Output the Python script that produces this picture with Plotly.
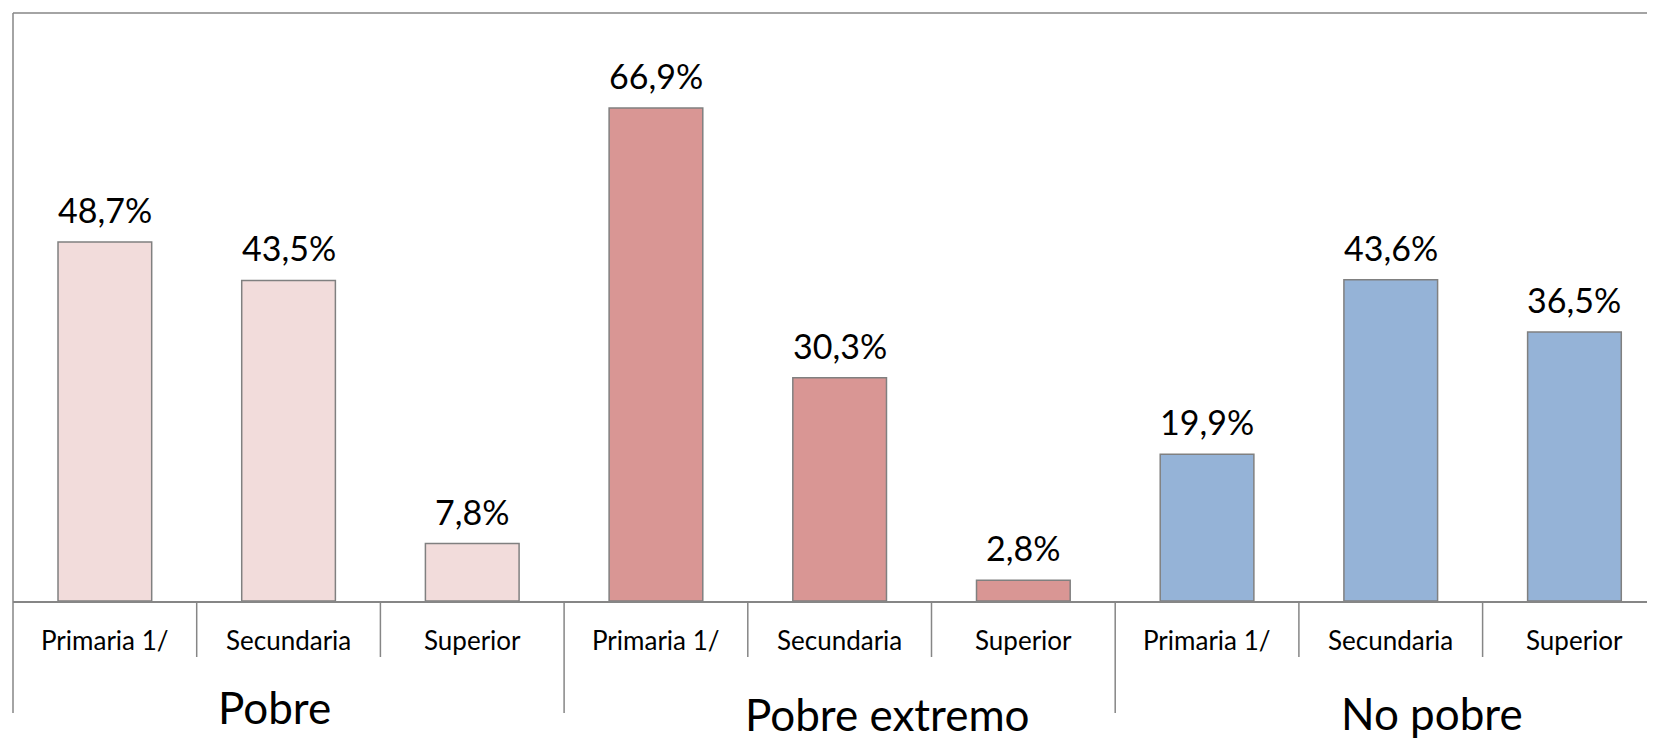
import plotly.graph_objects as go

# ---- data ----
groups = ["Pobre", "Pobre extremo", "No pobre"]
levels = ["Primaria 1/", "Secundaria", "Superior"]
values_pobre = [48.7, 43.5, 7.8]
values_extremo = [66.9, 30.3, 2.8]
values_nopobre = [19.9, 43.6, 36.5]

series = [values_pobre, values_extremo, values_nopobre]
colors = ["#F2DCDB", "#D99694", "#95B3D7"]

# ---- layout constants (pixels, page coords; body has an 8px margin) ----
BODY = 8
W, H = 1655 - BODY, 744 - BODY
plot_left, plot_top, baseline = 13 - BODY, 13 - BODY, 601 - BODY
cat_px = 183.7
plot_w = W - plot_left
plot_h = baseline - plot_top
px_per_unit = 7.37
y_max = plot_h / px_per_unit
x_max = -0.5 + plot_w / cat_px

FONT = "Lato"
axis_col = "#868686"

def fmt(v):
    return f"{v:.1f}".replace(".", ",") + "%"

fig = go.Figure()
annotations = []
shapes = []

n_lv = len(levels)
for gi, (gname, vals, col) in enumerate(zip(groups, series, colors)):
    xs = [gi * n_lv + j for j in range(n_lv)]
    fig.add_trace(go.Bar(
        x=xs, y=vals, width=0.51,
        marker=dict(color=col, line=dict(color="#808080", width=1.5)),
        name=gname, showlegend=False, hoverinfo="skip",
    ))
    for x, v in zip(xs, vals):
        annotations.append(dict(
            x=x, y=v, xref="x", yref="y", text=fmt(v), showarrow=False,
            yanchor="bottom", yshift=10,
            font=dict(family=FONT, size=34, color="black"),
        ))
    for x, lv in zip(xs, levels):
        annotations.append(dict(
            x=x, y=0, xref="x", yref="paper", text=lv, showarrow=False,
            yanchor="middle", yshift=-39,
            font=dict(family=FONT, size=26, color="black"),
        ))

# group label offsets (pixels) as in reference
grp_xshift = [-14, 48, 41]
grp_ydown = [106, 113, 112]
for gi, gname in enumerate(groups):
    annotations.append(dict(
        x=gi * n_lv + (n_lv - 1) / 2, y=0, xref="x", yref="paper",
        text=gname, showarrow=False, yanchor="middle",
        xshift=grp_xshift[gi], yshift=-grp_ydown[gi],
        font=dict(family=FONT, size=44, color="black"),
    ))

# dividers under the axis
short_len = (657 - 601) / plot_h
long_len = (713 - 601) / plot_h
n_cat = len(groups) * n_lv
for k in range(n_cat - 1):
    is_grp = (k + 1) % n_lv == 0
    shapes.append(dict(
        type="line", xref="x", yref="paper", x0=k + 0.5, x1=k + 0.5,
        y0=0, y1=-(long_len if is_grp else short_len),
        line=dict(color=axis_col, width=1.5),
    ))
# left frame line extended down
shapes.append(dict(type="line", xref="paper", yref="paper", x0=0, x1=0,
                   y0=1, y1=-long_len, line=dict(color=axis_col, width=1.5)))
# top frame line
shapes.append(dict(type="line", xref="paper", yref="paper", x0=0, x1=1,
                   y0=1, y1=1, line=dict(color=axis_col, width=1.5)))

fig.update_layout(
    width=W, height=H,
    margin=dict(l=plot_left, r=0, t=plot_top, b=H - baseline, pad=0),
    paper_bgcolor="white", plot_bgcolor="white",
    barmode="overlay",
    annotations=annotations, shapes=shapes,
    xaxis=dict(range=[-0.5, x_max], showticklabels=False, ticks="",
               showgrid=False, zeroline=False, showline=True,
               linecolor=axis_col, linewidth=1.5, fixedrange=True),
    yaxis=dict(range=[0, y_max], showticklabels=False, ticks="",
               showgrid=False, zeroline=False, showline=False, fixedrange=True),
)

fig.write_html("out.html")
